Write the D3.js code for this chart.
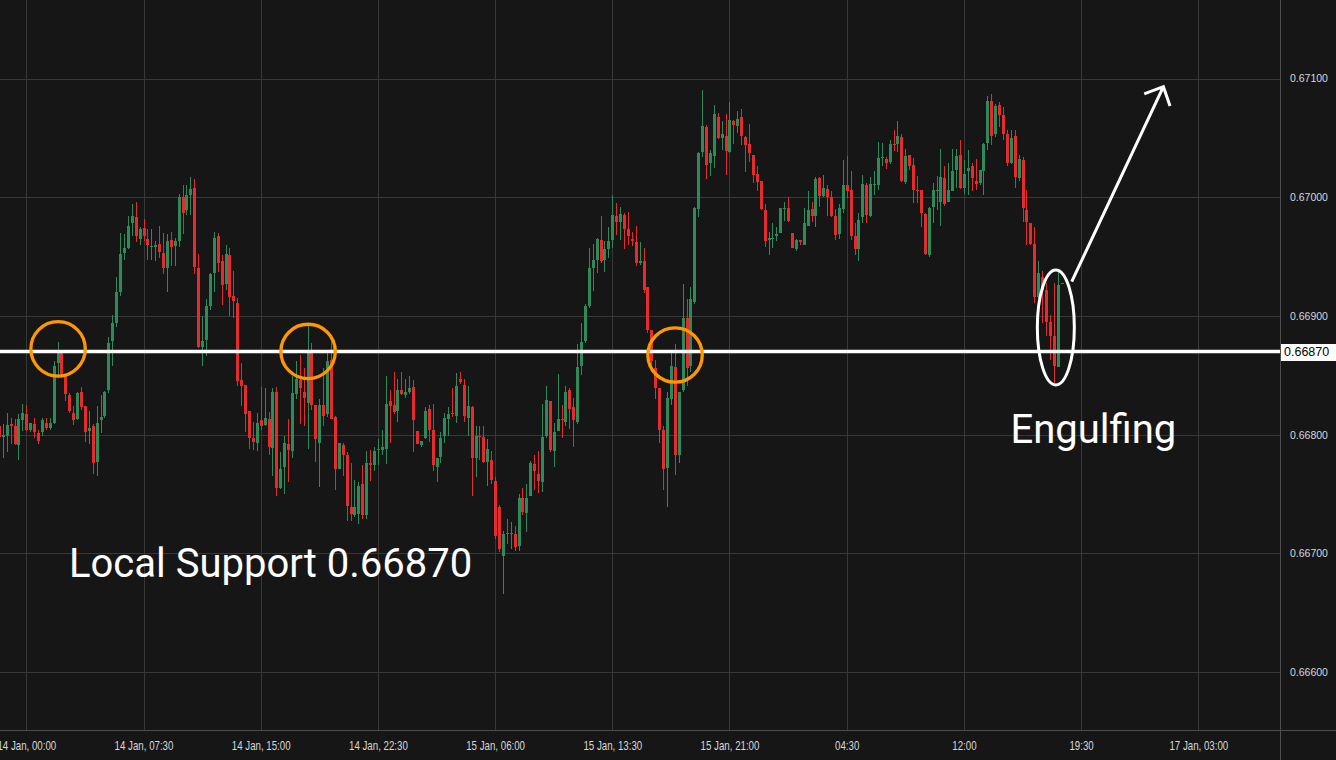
<!DOCTYPE html>
<html><head><meta charset="utf-8">
<script src="https://cdn.jsdelivr.net/npm/d3@7"></script>
<style>
html,body{margin:0;padding:0;background:#161616;overflow:hidden}
svg{display:block}
</style></head><body>
<svg id="c" width="1336" height="760"></svg>
<script>
// ---------- DATA ----------
const firstCandle = "2025-01-13T22:15:00Z";
const candleMinutes = 15;
const open = [66807,66798,66799,66809,66807,66791,66812,66817,66804,66809,66801,66802,66810,66806,66810,66860,66869,66851,66833,66818,66813,66836,66824,66803,66807,66777,66812,66816,66838,66879,66894,66920,66953,66957,66978,66983,66965,66974,66965,66958,66958,66961,66953,66940,66964,66959,66963,67000,66989,67002,67008,66940,66874,66880,66908,66936,66967,66946,66927,66951,66917,66911,66846,66842,66820,66797,66793,66812,66808,66813,66789,66836,66755,66773,66792,66786,66834,66846,66836,66827,66870,66825,66793,66825,66817,66863,66815,66771,66791,66783,66739,66732,66733,66758,66732,66776,66774,66787,66787,66788,66828,66825,66820,66838,66833,66836,66840,66803,66791,66797,66822,66804,66773,66781,66799,66813,66818,66816,66847,66842,66814,66823,66780,66799,66798,66777,66779,66761,66739,66698,66717,66716,66716,66706,66747,66734,66748,66775,66767,66760,66799,66828,66786,66803,66813,66811,66838,66823,66811,66858,66879,66908,66940,66947,66964,66947,66956,66964,66984,66979,66985,66973,66965,66962,66945,66946,66924,66888,66856,66839,66804,66772,66830,66857,66783,66838,66898,66858,66912,66990,67038,67059,67029,67035,67068,67050,67052,67038,67064,67060,67068,67051,67045,67036,67020,67014,66989,66964,66965,66967,66970,66990,66991,66970,66956,66964,66960,66976,66990,66984,67016,67001,67007,67000,66984,66969,66990,67010,67006,66967,66956,66983,67010,66984,67010,67010,67033,67032,67030,67045,67045,67051,67013,67036,67027,67006,67006,66986,66951,66992,67005,66996,67016,66996,67005,67023,67036,67008,67022,67026,67014,67012,67022,67046,67081,67053,67078,67069,67053,67029,67052,67016,67031,66989,66978,66961,66916,66933,66922,66895,66883,66857,66928];
const high = [66813,66809,66818,66814,66813,66817,66826,66825,66810,66814,66804,66814,66814,66814,66862,66878,66870,66851,66835,66824,66836,66840,66824,66820,66809,66824,66833,66837,66882,66901,66933,66970,66969,66984,66994,66996,66975,66982,66973,66973,66963,66976,66970,66969,66971,66966,67003,67010,67010,67017,67015,66952,66900,66914,66936,66971,66970,66951,66960,66957,66938,66915,66860,66842,66820,66811,66818,66840,66839,66819,66839,66840,66785,66799,66813,66849,66862,66867,66856,66892,66877,66825,66830,66856,66869,66879,66816,66793,66793,66785,66776,66762,66760,66774,66786,66787,66790,66796,66804,66849,66838,66853,66847,66853,66847,66849,66846,66803,66795,66823,66825,66826,66780,66802,66818,66823,66839,66852,66853,66847,66841,66824,66807,66807,66807,66796,66786,66764,66741,66719,66729,66726,66723,66750,66755,66758,66778,66783,66786,66826,66841,66828,66810,66851,66825,66841,66839,66831,66876,66894,66910,66957,66961,66966,66984,66963,66975,67002,66995,66992,66987,66988,66971,66976,66962,66957,66924,66888,66863,66839,66807,66836,66869,66876,66836,66927,66914,66924,66992,67038,67090,67061,67040,67078,67071,67064,67070,67080,67065,67073,67074,67052,67062,67036,67026,67014,66994,66971,66978,66975,66991,66996,67000,66970,66965,66964,66991,67005,66996,67017,67017,67019,67010,67005,66990,66994,67031,67035,67022,66978,66987,67019,67012,67017,67022,67047,67046,67034,67048,67057,67064,67053,67041,67036,67033,67018,67006,66987,66992,67012,67018,67041,67026,67029,67041,67041,67048,67031,67040,67029,67032,67023,67046,67085,67087,67079,67080,67076,67057,67057,67057,67036,67034,67006,66978,66975,66946,66938,66928,66901,66928,66937,66928];
const low = [66794,66780,66785,66792,66791,66779,66803,66803,66802,66797,66792,66799,66804,66804,66809,66848,66848,66828,66818,66808,66812,66821,66794,66792,66767,66765,66801,66814,66835,66858,66891,66917,66947,66956,66967,66962,66960,66963,66947,66947,66946,66949,66935,66920,66942,66942,66958,66969,66985,66985,66935,66873,66858,66866,66905,66920,66937,66909,66922,66900,66898,66841,66824,66802,66788,66787,66786,66804,66807,66783,66765,66748,66754,66750,66760,66780,66830,66809,66807,66788,66821,66777,66756,66807,66815,66813,66753,66771,66765,66727,66727,66731,66725,66729,66729,66761,66769,66774,66783,66775,66793,66817,66811,66833,66831,66834,66785,66792,66790,66796,66794,66769,66760,66776,66793,66799,66815,66810,66843,66811,66799,66748,66764,66779,66776,66757,66758,66712,66701,66666,66708,66704,66702,66702,66732,66718,66748,66753,66751,66752,66797,66785,66773,66803,66797,66807,66805,66790,66809,66850,66877,66907,66921,66936,66945,66937,66949,66957,66968,66964,66956,66960,66959,66942,66943,66919,66886,66853,66830,66793,66753,66739,66825,66766,66776,66836,66841,66853,66910,66983,67034,67015,67018,67025,67049,67040,67019,67037,67045,67054,67044,67021,67030,67012,67005,66989,66958,66951,66957,66963,66970,66980,66979,66957,66955,66960,66960,66976,66979,66975,66992,67000,66984,66983,66964,66965,66987,66999,66964,66951,66946,66978,66978,66983,67002,67006,67026,67024,67028,67039,67038,67013,67011,67023,66995,66995,66975,66951,66950,66978,66989,66976,66993,66996,67005,67008,67007,67003,67002,67005,67006,67010,67002,67040,67044,67051,67059,67048,67026,67028,67008,67014,66979,66960,66960,66911,66914,66894,66883,66863,66842,66857,66927];
const close = [66798,66800,66808,66807,66792,66813,66818,66804,66810,66802,66795,66812,66806,66810,66858,66869,66851,66834,66820,66812,66835,66823,66802,66806,66776,66810,66815,66836,66877,66894,66920,66952,66957,66976,66984,66967,66973,66967,66960,66959,66960,66954,66940,66963,66958,66963,67000,66987,67002,67007,66941,66874,66879,66908,66935,66966,66945,66926,66952,66916,66913,66845,66841,66817,66797,66794,66810,66807,66814,66790,66836,66755,66771,66793,66787,66835,66847,66839,66831,66870,66825,66796,66825,66816,66862,66813,66771,66793,66783,66740,66733,66739,66757,66732,66776,66774,66786,66788,66790,66826,66824,66819,66838,66834,66836,66839,66812,66792,66795,66820,66804,66774,66780,66797,66814,66817,66817,66841,66844,66816,66824,66780,66799,66798,66777,66788,66762,66715,66704,66716,66716,66717,66705,66747,66735,66747,66776,66769,66761,66798,66829,66787,66802,66813,66812,66836,66822,66812,66857,66878,66908,66940,66947,66965,66946,66956,66963,66985,66979,66986,66973,66967,66963,66945,66946,66922,66888,66862,66839,66804,66771,66831,66858,66783,66836,66898,66856,66914,66991,67037,67060,67027,67037,67070,67050,67053,67039,67065,67061,67066,67052,67044,67037,67019,67013,66990,66963,66966,66966,66969,66991,66991,66980,66957,66964,66962,66978,66989,66984,67015,67001,67008,67000,66984,66968,66991,67010,67005,66967,66956,66981,67011,66985,67011,67011,67033,67034,67029,67045,67044,67052,67014,67035,67026,67006,67005,66987,66952,66991,67006,67006,67017,66994,67006,67022,67035,67008,67020,67025,67016,67011,67023,67045,67081,67052,67077,67069,67053,67029,67050,67017,67032,66991,66979,66961,66916,66936,66922,66895,66883,66858,66926,66927];
const priceScaleUnit = 1e5;          // values above are in 1/100000
const priceTicks = [0.666, 0.667, 0.668, 0.669, 0.670, 0.671];
const timeTicks = ["2025-01-14T00:00Z","2025-01-14T07:30Z","2025-01-14T15:00Z","2025-01-14T22:30Z","2025-01-15T06:00Z","2025-01-15T13:30Z","2025-01-15T21:00Z","2025-01-16T04:30Z","2025-01-16T12:00Z","2025-01-16T19:30Z","2025-01-17T03:00Z"];
const timeTickLabels = ["14 Jan, 00:00","14 Jan, 07:30","14 Jan, 15:00","14 Jan, 22:30","15 Jan, 06:00","15 Jan, 13:30","15 Jan, 21:00","04:30","12:00","19:30","17 Jan, 03:00"];
const supportLevel = 0.6687;
const supportLabel = "0.66870";
const touchCircles = [
  {t:"2025-01-14T02:02Z", p:0.668723},
  {t:"2025-01-14T18:02Z", p:0.668701},
  {t:"2025-01-15T17:31Z", p:0.668671}
];
const engulfMark = {t:"2025-01-16T17:53Z", p:0.668903};
const arrowFrom = {t:"2025-01-16T18:54Z", p:0.669289};
const arrowTo = {t:"2025-01-17T00:46Z", p:0.670932};
const labelSupport = "Local Support 0.66870";
const labelEngulf = "Engulfing";

// ---------- STYLE / LAYOUT ----------
const W = 1336, H = 760, plotRight = 1280, plotBottom = 730;
const BG = "#161616", GRID = "#383838", AXIS = "#4e4e4e";
const UP = "#2f8a5a", DOWN = "#e52b2b", ORANGE = "#ff9800";

const svg = d3.select("#c");
svg.append("rect").attr("width", W).attr("height", H).attr("fill", BG);

const x = d3.scaleUtc()
  .domain([new Date("2025-01-14T00:00Z"), new Date("2025-01-17T03:00Z")])
  .range([26.3, 1198.3]);
const y = d3.scaleLinear().domain([0.666, 0.671]).range([672.0, 78.6]);

const t0 = new Date(firstCandle).getTime();
const candles = open.map((o, i) => ({
  t: new Date(t0 + i * candleMinutes * 60000),
  o: o / priceScaleUnit, h: high[i] / priceScaleUnit,
  l: low[i] / priceScaleUnit, c: close[i] / priceScaleUnit
}));

// grid
const grid = svg.append("g").attr("shape-rendering", "crispEdges");
grid.selectAll(".hg").data(priceTicks).join("line")
  .attr("x1", 0).attr("x2", plotRight)
  .attr("y1", d => Math.round(y(d)) + 0.5).attr("y2", d => Math.round(y(d)) + 0.5)
  .attr("stroke", GRID).attr("stroke-width", 1);
grid.selectAll(".vg").data(timeTicks).join("line")
  .attr("x1", d => Math.round(x(new Date(d))) + 0.5).attr("x2", d => Math.round(x(new Date(d))) + 0.5)
  .attr("y1", 0).attr("y2", plotBottom)
  .attr("stroke", GRID).attr("stroke-width", 1);

// axis border lines
svg.append("line").attr("x1", 0).attr("x2", W).attr("y1", plotBottom + 0.5).attr("y2", plotBottom + 0.5)
  .attr("stroke", AXIS).attr("shape-rendering", "crispEdges");
svg.append("line").attr("x1", plotRight + 0.5).attr("x2", plotRight + 0.5).attr("y1", 0).attr("y2", H)
  .attr("stroke", AXIS).attr("shape-rendering", "crispEdges");

// candles
const cg = svg.append("g").attr("shape-rendering", "crispEdges");
const cand = cg.selectAll("g").data(candles).join("g");
cand.append("rect")
  .attr("x", d => Math.round(x(d.t)))
  .attr("width", 1)
  .attr("y", d => y(d.h))
  .attr("height", d => Math.max(1, y(d.l) - y(d.h)))
  .attr("fill", d => d.c >= d.o ? UP : DOWN);
cand.append("rect")
  .attr("x", d => Math.round(x(d.t)) - 1)
  .attr("width", 3)
  .attr("y", d => y(Math.max(d.o, d.c)))
  .attr("height", d => Math.max(1, Math.abs(y(d.o) - y(d.c))))
  .attr("fill", d => d.c >= d.o ? UP : DOWN);

// text annotations
svg.append("text").attr("x", 69).attr("y", 577)
  .attr("font-family", "Roboto, 'Open Sans', sans-serif").attr("font-size", 40)
  .attr("fill", "#ffffff").text(labelSupport);
svg.append("text").attr("x", 1010.5).attr("y", 443)
  .attr("font-family", "Roboto, 'Open Sans', sans-serif").attr("font-size", 40)
  .attr("fill", "#ffffff").text(labelEngulf);

// support line
svg.append("line").attr("x1", 0).attr("x2", plotRight)
  .attr("y1", y(supportLevel)).attr("y2", y(supportLevel))
  .attr("stroke", "#ffffff").attr("stroke-width", 3.6);

// touch circles
svg.selectAll(".tc").data(touchCircles).join("circle")
  .attr("cx", d => x(new Date(d.t))).attr("cy", d => y(d.p)).attr("r", 27.2)
  .attr("fill", "none").attr("stroke", ORANGE).attr("stroke-width", 3.3);

// engulfing ellipse
svg.append("ellipse")
  .attr("cx", x(new Date(engulfMark.t))).attr("cy", y(engulfMark.p))
  .attr("rx", 18.5).attr("ry", 57.5)
  .attr("fill", "none").attr("stroke", "#ffffff").attr("stroke-width", 3);

// arrow
const ax1 = x(new Date(arrowFrom.t)), ay1 = y(arrowFrom.p);
const ax2 = x(new Date(arrowTo.t)), ay2 = y(arrowTo.p);
const ang = Math.atan2(ay1 - ay2, ax1 - ax2);
const headLen = 20.5, headAng = 44 * Math.PI / 180;
const w1 = [ax2 + headLen * Math.cos(ang + headAng), ay2 + headLen * Math.sin(ang + headAng)];
const w2 = [ax2 + headLen * Math.cos(ang - headAng), ay2 + headLen * Math.sin(ang - headAng)];
const ap = d3.path();
ap.moveTo(ax1, ay1); ap.lineTo(ax2, ay2);
ap.moveTo(w1[0], w1[1]); ap.lineTo(ax2, ay2); ap.lineTo(w2[0], w2[1]);
svg.append("path").attr("d", ap.toString()).attr("fill", "none")
  .attr("stroke", "#ffffff").attr("stroke-width", 3).attr("stroke-linejoin", "miter");

// bottom axis labels (condensed look)
const xAxis = d3.axisBottom(x)
  .tickValues(timeTicks.map(d => new Date(d)))
  .tickFormat((d, i) => timeTickLabels[i])
  .tickSize(0).tickPadding(11);
const gx = svg.append("g").attr("transform", `translate(0,${plotBottom})`).call(xAxis);
gx.select(".domain").remove();
gx.selectAll("text").attr("fill", "#d8d8d8")
  .attr("font-family", "'Liberation Sans', Arial, sans-serif")
  .attr("font-size", 12)
  .attr("transform", "scale(0.81,1)");

// right axis labels
const yAxis = d3.axisRight(y).tickValues(priceTicks).tickFormat(d3.format(".5f"))
  .tickSize(0).tickPadding(10);
const gy = svg.append("g").attr("transform", `translate(${plotRight},0)`).call(yAxis);
gy.select(".domain").remove();
gy.selectAll("text").attr("fill", "#d8d8d8")
  .attr("font-family", "'Liberation Sans', Arial, sans-serif").attr("font-size", 10.5);

// support price box
const sy = y(supportLevel);
svg.append("rect").attr("x", plotRight + 1).attr("y", Math.round(sy) - 8)
  .attr("width", W - plotRight - 1).attr("height", 17).attr("fill", "#ffffff");
svg.append("text").attr("x", plotRight + 4).attr("y", sy).attr("dy", "0.36em")
  .attr("font-family", "'Liberation Sans', Arial, sans-serif").attr("font-size", 12.5)
  .attr("fill", "#000000").text(supportLabel);
</script>
</body></html>
